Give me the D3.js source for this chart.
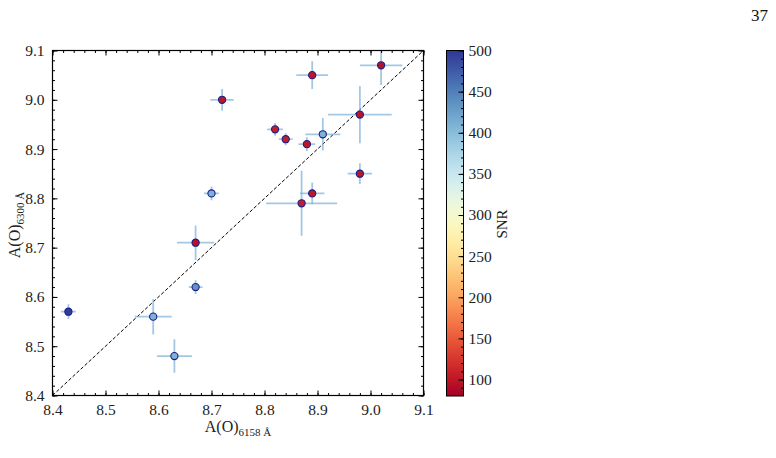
<!DOCTYPE html>
<html>
<head>
<meta charset="utf-8">
<script src="https://cdn.jsdelivr.net/npm/d3@7"></script>
<style>
  body { margin: 0; background: #fff; }
  svg { display: block; font-family: "Liberation Serif", "DejaVu Serif", serif; }
  svg text { font-family: "Liberation Serif", "DejaVu Serif", serif; }
</style>
</head>
<body>
<div id="chart"></div>
<script>
// ---- data ----
var xVals = [9.02, 8.89, 8.72, 8.98, 8.82, 8.84, 8.88, 8.91, 8.98, 8.70, 8.89, 8.87, 8.67, 8.67, 8.43, 8.59, 8.63];
var yVals = [9.07, 9.05, 9.00, 8.97, 8.94, 8.92, 8.91, 8.93, 8.85, 8.81, 8.81, 8.79, 8.71, 8.62, 8.57, 8.56, 8.48];
var xErr  = [0.040, 0.030, 0.022, 0.060, 0.015, 0.013, 0.016, 0.033, 0.023, 0.014, 0.023, 0.067, 0.035, 0.013, 0.014, 0.035, 0.033];
var yErr  = [0.040, 0.028, 0.022, 0.058, 0.013, 0.012, 0.014, 0.033, 0.021, 0.014, 0.022, 0.066, 0.035, 0.014, 0.015, 0.036, 0.034];
var snr   = [95, 100, 100, 98, 105, 105, 100, 410, 100, 410, 100, 105, 95, 435, 495, 410, 410];

var axisTicks = [8.4, 8.5, 8.6, 8.7, 8.8, 8.9, 9.0, 9.1];
var cbarTicks = [100, 150, 200, 250, 300, 350, 400, 450, 500];
var snrDomain = [80, 500];

var points = xVals.map((x, i) => ({x: x, y: yVals[i], xe: xErr[i], ye: yErr[i], s: snr[i]}));

// ---- canvas ----
var W = 776, H = 458;
var svg = d3.select("#chart").append("svg").attr("width", W).attr("height", H);

var plot = {left: 52.5, top: 50.5, right: 423.5, bottom: 395.5};

var x = d3.scaleLinear().domain([8.4, 9.1]).range([plot.left, plot.right]);
var y = d3.scaleLinear().domain([8.4, 9.1]).range([plot.bottom, plot.top]);
var color = d3.scaleSequential(d3.interpolateRdYlBu).domain(snrDomain);

// page number
svg.append("text").attr("x", 768).attr("y", 21).attr("text-anchor", "end")
  .style("font-size", "17px").attr("fill", "#111").text("37");

// ---- clip ----
svg.append("clipPath").attr("id", "clip").append("rect")
  .attr("x", plot.left).attr("y", plot.top)
  .attr("width", plot.right - plot.left).attr("height", plot.bottom - plot.top);

var g = svg.append("g").attr("clip-path", "url(#clip)");

// 1:1 line
g.append("line")
  .attr("x1", x(8.4)).attr("y1", y(8.4)).attr("x2", x(9.1)).attr("y2", y(9.1))
  .attr("stroke", "#000").attr("stroke-width", 1).attr("stroke-dasharray", "3.5,2");

// error bars
var eb = g.append("g").attr("stroke", "#7bb0dc").attr("stroke-width", 1.8).attr("stroke-opacity", 0.7);
eb.selectAll("line.xe").data(points).enter().append("line")
  .attr("x1", d => x(d.x - d.xe)).attr("x2", d => x(d.x + d.xe))
  .attr("y1", d => y(d.y)).attr("y2", d => y(d.y));
eb.selectAll("line.ye").data(points).enter().append("line")
  .attr("x1", d => x(d.x)).attr("x2", d => x(d.x))
  .attr("y1", d => y(d.y - d.ye)).attr("y2", d => y(d.y + d.ye));

// markers
g.append("g").selectAll("circle").data(points).enter().append("circle")
  .attr("cx", d => x(d.x)).attr("cy", d => y(d.y)).attr("r", 3.6)
  .attr("fill", d => color(d.s))
  .attr("stroke", "#1c1c8a").attr("stroke-width", 1.1);

// ---- axes (inward ticks on all sides) ----
var minor = d3.range(8.4, 9.1001, 0.02).map(v => +v.toFixed(2));
function addAxis(axisFn, scale, tr, withLabels) {
  var major = axisFn(scale).tickValues(axisTicks).tickSizeInner(-5).tickSizeOuter(0).tickPadding(8)
    .tickFormat(withLabels ? d3.format(".1f") : "");
  var a = svg.append("g").attr("transform", tr).call(major).attr("font-family", null);
  a.select(".domain").remove();
  a.selectAll(".tick line").attr("stroke", "#000");
  a.selectAll("text").style("font-size", "15.5px").attr("fill", "#222");
  var m = svg.append("g").attr("transform", tr)
    .call(axisFn(scale).tickValues(minor).tickSizeInner(-2.5).tickSizeOuter(0).tickFormat(""));
  m.select(".domain").remove();
  m.selectAll(".tick line").attr("stroke", "#000");
  return a;
}
addAxis(d3.axisBottom, x, "translate(0," + plot.bottom + ")", true);
addAxis(d3.axisTop, x, "translate(0," + plot.top + ")", false);
addAxis(d3.axisLeft, y, "translate(" + plot.left + ",0)", true);
addAxis(d3.axisRight, y, "translate(" + plot.right + ",0)", false);

svg.append("rect").attr("x", plot.left).attr("y", plot.top)
  .attr("width", plot.right - plot.left).attr("height", plot.bottom - plot.top)
  .attr("fill", "none").attr("stroke", "#000").attr("stroke-width", 1.2);

// axis labels
var xl = svg.append("text").attr("x", 238).attr("y", 432).attr("text-anchor", "middle")
  .style("font-size", "16px").attr("fill", "#222");
xl.append("tspan").text("A(O)");
xl.append("tspan").attr("dy", 4).style("font-size", "11px").text("6158 Å");

var yl = svg.append("text").attr("transform", "translate(20,225) rotate(-90)")
  .attr("text-anchor", "middle").style("font-size", "16px").attr("fill", "#222");
yl.append("tspan").text("A(O)");
yl.append("tspan").attr("dy", 4).style("font-size", "11px").text("6300 Å");

// ---- colorbar ----
var cb = {left: 446.5, right: 463.5, top: 50.5, bottom: 396};
var cy = d3.scaleLinear().domain(snrDomain).range([cb.bottom, cb.top]);

var grad = svg.append("defs").append("linearGradient").attr("id", "cbgrad")
  .attr("x1", 0).attr("y1", 1).attr("x2", 0).attr("y2", 0);
d3.range(0, 1.0001, 0.05).forEach(t => {
  grad.append("stop").attr("offset", t).attr("stop-color", d3.interpolateRdYlBu(t));
});
svg.append("rect").attr("x", cb.left).attr("y", cb.top)
  .attr("width", cb.right - cb.left).attr("height", cb.bottom - cb.top)
  .attr("fill", "url(#cbgrad)");

var cbAxis = svg.append("g").attr("transform", "translate(" + cb.right + ",0)")
  .call(d3.axisRight(cy).tickValues(cbarTicks).tickSizeInner(-5).tickSizeOuter(0).tickPadding(5))
  .attr("font-family", null);
cbAxis.select(".domain").remove();
cbAxis.selectAll(".tick line").attr("stroke", "#000");
cbAxis.selectAll("text").style("font-size", "15.5px").attr("fill", "#222");
var cbMinor = svg.append("g").attr("transform", "translate(" + cb.right + ",0)")
  .call(d3.axisRight(cy).tickValues(d3.range(90, 501, 10)).tickSizeInner(-2.5).tickSizeOuter(0).tickFormat(""));
cbMinor.select(".domain").remove();
cbMinor.selectAll(".tick line").attr("stroke", "#000");

svg.append("rect").attr("x", cb.left).attr("y", cb.top)
  .attr("width", cb.right - cb.left).attr("height", cb.bottom - cb.top)
  .attr("fill", "none").attr("stroke", "#000").attr("stroke-width", 1);

svg.append("text").attr("transform", "translate(507,224) rotate(-90)")
  .attr("text-anchor", "middle").style("font-size", "15px").attr("fill", "#222").text("SNR");
</script>
</body>
</html>
